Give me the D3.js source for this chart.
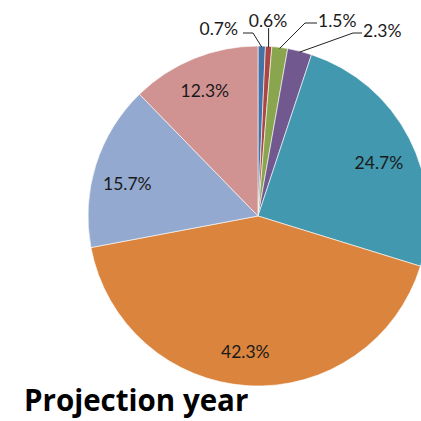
<!DOCTYPE html>
<html><head><meta charset="utf-8">
<script src="https://cdn.jsdelivr.net/npm/d3@7"></script>
<style>body{margin:0;background:#fff;overflow:hidden}</style>
</head><body>
<svg id="c" width="421" height="421"></svg>
<script>
const categories = ["A","B","C","D","E","F","G","H"];
const values = [0.7, 0.6, 1.5, 2.3, 24.7, 42.3, 15.7, 12.3];
const labels = ["0.7%","0.6%","1.5%","2.3%","24.7%","42.3%","15.7%","12.3%"];
const colors = ["#4572A7","#AA4643","#89A54E","#71588F","#4198AF","#DB843D","#93A9CF","#D19392"];
const title = "Projection year";

const svg = d3.select("#c");
const cx = 258, cy = 216, R = 170;
const font = "Lato, 'Open Sans', sans-serif";
const fs = 17.5;
const g = svg.append("g").attr("transform", `translate(${cx},${cy})`);
const pie = d3.pie().sort(null).value(d => d)(values);
const arc = d3.arc().innerRadius(0).outerRadius(R);
g.selectAll("path").data(pie).enter().append("path")
  .attr("d", arc).attr("fill", (d,i) => colors[i])
  .attr("stroke", "#fff").attr("stroke-width", 0.6);

// inner labels (layout nudges)
const nudge = {4:[0,9], 5:[-5,0], 6:[-1,8], 7:[-2,0]};
const labArc = d3.arc().innerRadius(136).outerRadius(136);
g.selectAll("text.in").data(pie.filter((d,i)=>i>=4)).enter().append("text")
  .attr("x", d => labArc.centroid(d)[0] + nudge[d.index][0])
  .attr("y", d => labArc.centroid(d)[1] + nudge[d.index][1])
  .attr("text-anchor","middle").attr("dominant-baseline","central")
  .attr("font-family", font).attr("font-size", fs).attr("fill","#1a1a1a")
  .text(d => labels[d.index]);

// outer labels with leader lines (offsets relative to center)
const outer = [
  {i:0, tx:-20, ty:-188, anchor:"end", knee:[-5,-183], h0:-15},
  {i:1, tx:10, ty:-196, anchor:"middle", knee:null, top:[10,-188]},
  {i:2, tx:60, ty:-196, anchor:"start", knee:[47,-193], h0:59},
  {i:3, tx:105, ty:-186, anchor:"start", knee:[95,-183], h0:104}
];
const edge = d3.arc().innerRadius(R-1).outerRadius(R-1);
outer.forEach(o => {
  const d = pie[o.i];
  const p = edge.centroid(d);
  let pts;
  if (o.knee) {
    pts = [[o.h0, o.knee[1]],[o.knee[0], o.knee[1]],[p[0], p[1]]];
  } else {
    pts = [[p[0], o.top[1]],[p[0], p[1]]];
  }
  g.append("path").attr("d", d3.line()(pts)).attr("fill","none")
    .attr("stroke","#222").attr("stroke-width",1);
  g.append("text").attr("x", o.tx).attr("y", o.ty)
    .attr("text-anchor", o.anchor).attr("dominant-baseline","central")
    .attr("font-family", font).attr("font-size", fs).attr("fill","#1a1a1a")
    .text(labels[o.i]);
});

svg.append("text").attr("x", 24).attr("y", 411)
  .attr("font-family", "'Open Sans', sans-serif").attr("font-weight","bold").attr("font-size", 29.5)
  .attr("fill","#000").text(title);
</script>
</body></html>
